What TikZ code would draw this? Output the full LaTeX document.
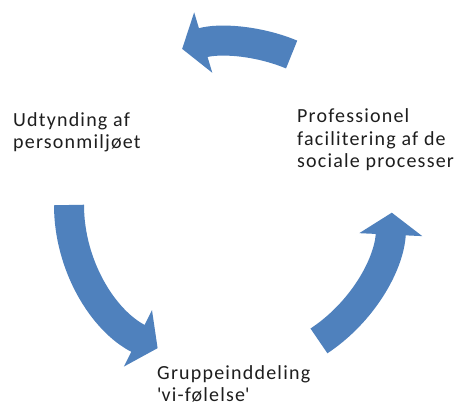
\documentclass[tikz,border=0pt]{standalone}
\usepackage{fontspec}
\setmainfont{Carlito}[LetterSpace=6]
\usepackage{xcolor}
\usepackage{tikz}
\usetikzlibrary{arrows.meta, positioning}
\definecolor{cycblue}{RGB}{79,129,189}
\definecolor{txtgray}{RGB}{30,30,30}
\tikzset{
  txt/.style={font=\fontsize{20}{22.5}\selectfont, text=txtgray, align=left,
    inner sep=0pt, anchor=base west},
  ca/.style={draw=cycblue, line width=30pt,
    -{Triangle[length=22pt, width=62pt]}},
}

\begin{document}
\begin{tikzpicture}[x=1pt, y=1pt]
  \useasboundingbox[fill=white] (0,0) rectangle (459,407);
  \coordinate (ctr) at (229,202);

  % base anchor sits on the last line
  \node[txt] (thin)  at (13,258) {Udtynding af\\personmiljøet};
  \node[txt] (prof)  at (297,239) {Professionel\\facilitering af de\\sociale processer};
  \node[txt] (group) at (157,5) {Gruppeinddeling\\\textquotesingle vi-følelse\textquotesingle};

  % arrow tails on the circle round ctr
  \coordinate (topS)   at ([shift={(67.4:163pt)}]ctr);
  \coordinate (leftS)  at ([shift={(180:160pt)}]ctr);
  \coordinate (rightS) at ([shift={(303.5:163pt)}]ctr);

  \draw[ca] (topS)   arc[start angle=67.4,  end angle=106.7, radius=163pt];
  \draw[ca] (leftS)  arc[start angle=180,   end angle=243.5, radius=160pt];
  \draw[ca] (rightS) arc[start angle=303.5, end angle=357.3, radius=163pt];
\end{tikzpicture}
\end{document}
